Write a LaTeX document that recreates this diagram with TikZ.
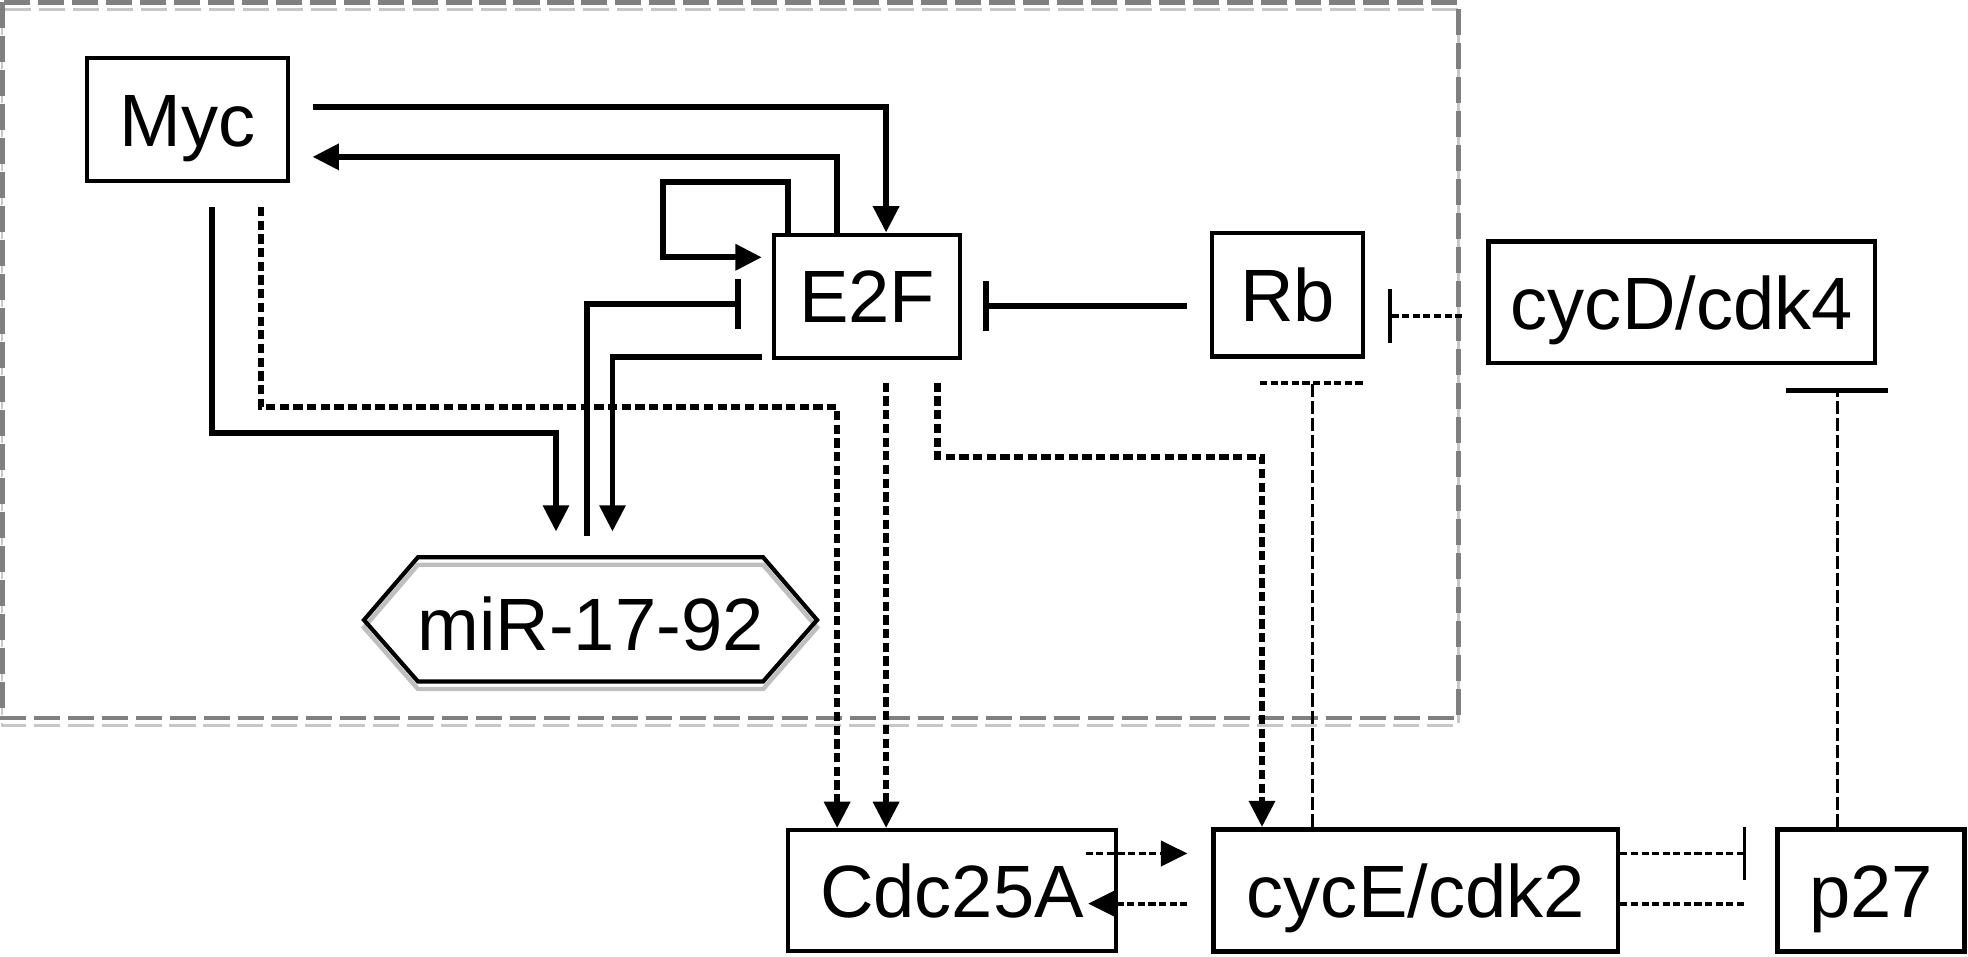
\documentclass[tikz,border=0pt]{standalone}
\usepackage{fontspec}
\setmainfont{Liberation Sans}
\usetikzlibrary{arrows.meta}
\tikzset{
  box/.style={draw, line width=0.95pt, inner sep=0pt, text height=0.425cm, text depth=0pt,
    font=\fontsize{16.8pt}{20pt}\selectfont},
  lbl/.style={inner sep=0pt, text height=0.425cm, text depth=0pt,
    font=\fontsize{16.8pt}{20pt}\selectfont},
  act/.style={line width=1.35pt, -{Triangle[length=0.21cm,width=0.2cm]}},
  inh/.style={line width=1.35pt, -{Bar[width=0.4cm]}},
  dotact/.style={line width=1.4pt, dash pattern=on 2.1pt off 1pt, -{Triangle[length=0.21cm,width=0.2cm]}},
  fine/.style={line width=0.85pt, dash pattern=on 1.6pt off 0.8pt},
  longdash/.style={line width=0.7pt, dash pattern=on 3pt off 0.9pt},
  grayframe/.style={black!50, line width=1.05pt, dash pattern=on 5.9pt off 1.8pt},
  grayshadow/.style={black!22, line width=0.6pt, dash pattern=on 5.9pt off 1.8pt},
}
\begin{document}
\begin{tikzpicture}[x=0.01cm, y=-0.01cm]
\useasboundingbox (0,0) rectangle (1568,762);

% dashed gray frame with faint shadow
\draw[grayshadow] (1.5,7.5) rectangle (1162,578);
\draw[grayframe] (1.8,1.8) rectangle (1162,572);

% nodes
\node[box, minimum width=1.60cm, minimum height=0.98cm] (Myc) at (149.5,95.5) {Myc};
\node[box, minimum width=1.48cm, minimum height=0.98cm] (E2F) at (691,236) {E2F};
\node[box, minimum width=1.20cm, minimum height=0.98cm] (Rb) at (1026,235) {Rb};
\node[box, minimum width=3.08cm, minimum height=0.97cm] (cycD) at (1340,241) {cycD/cdk4};
\node[box, minimum width=2.61cm, minimum height=0.96cm] (Cdc) at (758.5,709.5) {Cdc25A};
\node[box, minimum width=3.22cm, minimum height=0.97cm, line width=1.1pt] (cycE) at (1128,709.5) {cycE/cdk2};
\node[box, minimum width=1.49cm, minimum height=0.97cm, line width=1.1pt] (p27) at (1491,709.5) {p27};

% miR-17-92 hexagon
\draw[black!25, line width=1pt, shift={(0,6)}] (290,494) -- (333,444) -- (608,444) -- (651,494) -- (608,543) -- (333,543) -- cycle;
\draw[line width=0.95pt] (290,494) -- (333,444) -- (608,444) -- (651,494) -- (608,543) -- (333,543) -- cycle;
\node[lbl] (miR) at (470.5,497) {miR-17-92};

% solid interactions
\draw[act] (249,85.5) -| (706,0 |- E2F.north);
\draw[act] (667,0 |- E2F.north) |- (249,125);
\draw[act] (627.5,0 |- E2F.north) -- (627.5,145) -- (528,145) -- (528,205) -- (607,205);
\draw[inh] (467.5,427) |- (590,242);
\draw[act] (607,284.7) -| (488,423.6);
\draw[act] (169,165) |- (443,345) -- (443,423.6);
\draw[inh] (945.5,244) -- (783.5,244);

% thick dotted activations
\draw[dotact] (208,165) |- (667,324.6) -- (667,0 |- Cdc.north);
\draw[dotact] (706,305) -- (706,0 |- Cdc.north);
\draw[dotact] (747,305) |- (1005.5,364) -- (1005.5,0 |- cycE.north);

% thin dashed interactions
\draw[fine, -{Bar[width=0.425cm, line width=0.85pt]}] (1165,251.8) -- (1106,251.8);
\draw[longdash] (1046,0 |- cycE.north) -- (1046,305);
\draw[fine] (1004,305) -- (1086,305);
\draw[longdash, -{Bar[width=0.81cm, line width=0.95pt]}] (1463.7,0 |- p27.north) -- (1463.7,309.5);
\draw[fine, -{Triangle[length=0.21cm,width=0.2cm]}] (865,680) -- (946,680);
\draw[fine, -{Triangle[length=0.21cm,width=0.2cm]}] (946,720) -- (867,720);
\draw[fine, -{Bar[width=0.42cm, line width=0.85pt]}] (1291,680) -- (1391.5,680);
\draw[fine] (1291,720) -- (1390,720);
\end{tikzpicture}
\end{document}
